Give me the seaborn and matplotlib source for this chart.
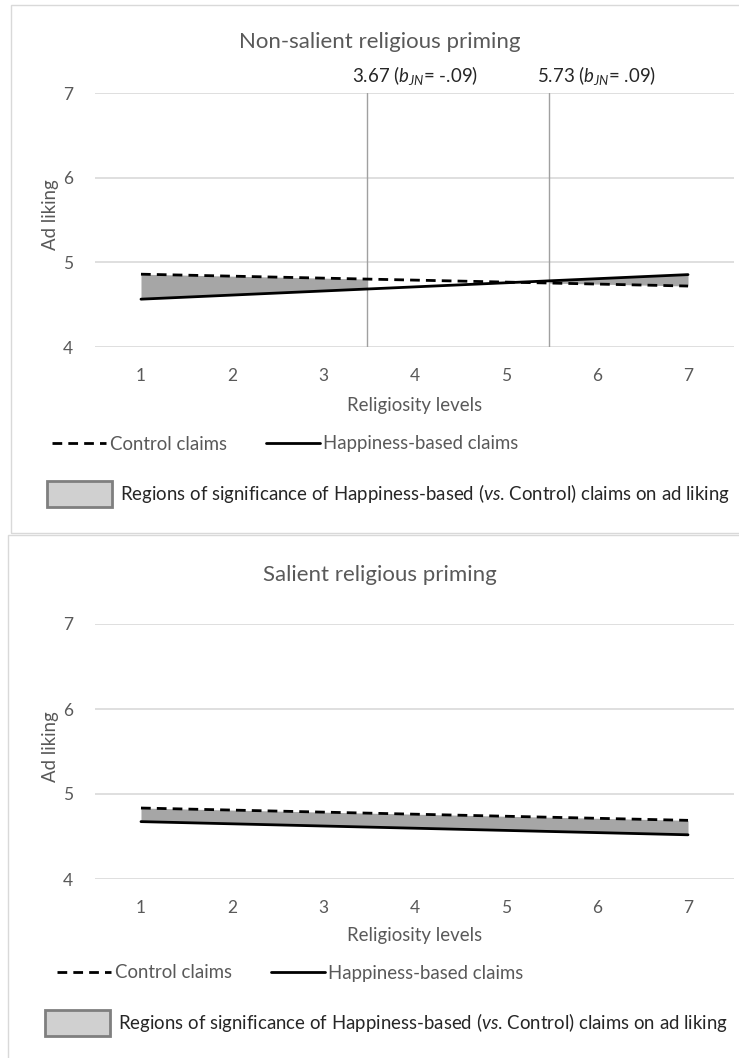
import numpy as np
import pandas as pd
import matplotlib
matplotlib.use("Agg")
import matplotlib.pyplot as plt
import seaborn as sns
from matplotlib.lines import Line2D
from matplotlib.patches import Patch, Rectangle

# data
religiosity = [1, 7]
claim_types = ["Control claims", "Happiness-based claims"]
nonsalient_control = [4.86, 4.72]
nonsalient_happy = [4.565, 4.855]
salient_control = [4.835, 4.69]
salient_happy = [4.675, 4.52]
jn_points = [3.48, 5.47]          # where the J-N lines are drawn
jn_values = ["3.67", "5.73"]
jn_slopes = ["-.09", ".09"]
x_ticks = [1, 2, 3, 4, 5, 6, 7]
y_ticks = [4, 5, 6, 7]

sns.set_theme(style="white")
plt.rcParams["font.family"] = ["Lato", "DejaVu Sans"]
plt.rcParams["mathtext.fontset"] = "custom"
plt.rcParams["mathtext.rm"] = "Lato"
plt.rcParams["mathtext.it"] = "Lato:italic"

GREY_TXT = "#595959"
DARK_TXT = "#262626"
GRID = "#d9d9d9"
FILL = "#a6a6a6"

W, H = 739, 1058
fig = plt.figure(figsize=(W / 100, H / 100), dpi=100)


def px_box(left, top, right, bottom):
    return [left / W, 1 - bottom / H, (right - left) / W, (bottom - top) / H]


def make_df(control, happy):
    rows = []
    for x, c, h in zip(religiosity, control, happy):
        rows.append({"Religiosity": x, "Ad liking": c, "Claims": claim_types[0]})
        rows.append({"Religiosity": x, "Ad liking": h, "Claims": claim_types[1]})
    return pd.DataFrame(rows)


def draw_panel(ax, control, happy, regions):
    df = make_df(control, happy)
    sns.lineplot(data=df, x="Religiosity", y="Ad liking", hue="Claims",
                 style="Claims", palette=["black", "black"],
                 dashes={claim_types[0]: (3.5, 2.2), claim_types[1]: ""},
                 linewidth=2, legend=False, ax=ax, zorder=3)
    for x0, x1 in regions:
        xs = [x0, x1]
        yc = np.interp(xs, religiosity, control)
        yh = np.interp(xs, religiosity, happy)
        ax.fill_between(xs, yc, yh, color=FILL, linewidth=0, zorder=2)

    ax.set_xlim(0.5, 7.5)
    ax.set_ylim(4, 7)
    ax.set_xticks(x_ticks)
    ax.set_yticks(y_ticks)
    ax.grid(axis="y", color=GRID, linewidth=1.2)
    ax.grid(axis="x", visible=False)
    for s in ax.spines.values():
        s.set_visible(False)
    ax.tick_params(axis="both", length=0, labelsize=12.5, labelcolor=GREY_TXT)
    ax.tick_params(axis="x", pad=15)
    ax.tick_params(axis="y", pad=16)
    ax.set_xlabel("Religiosity levels", fontsize=13.4, color=GREY_TXT)
    ax.set_ylabel("Ad liking", fontsize=13.4, color=GREY_TXT)


def add_legends(ax, y_row1, y_row2, shift1=0, shift2=0):
    line_handles = [
        Line2D([], [], color="black", lw=2, dashes=(3.5, 2.2)),
        Line2D([], [], color="black", lw=2),
    ]
    leg1 = ax.legend(line_handles, claim_types, ncol=2, frameon=False,
                     loc="center left",
                     bbox_to_anchor=((52 + shift1) / W, 1 - y_row1 / H),
                     bbox_transform=fig.transFigure, fontsize=13.4,
                     handlelength=2.9, handletextpad=0.2, columnspacing=2.1,
                     borderaxespad=0, borderpad=0, labelcolor=GREY_TXT)
    ax.add_artist(leg1)
    patch = Patch(facecolor="#d0d0d0", edgecolor="#7f7f7f", linewidth=2)
    ax.legend([patch],
              ["Regions of significance of Happiness-based ($\\mathit{vs}$. Control) claims on ad liking"],
              frameon=False, loc="center left",
              bbox_to_anchor=((47 + shift2) / W, 1 - y_row2 / H),
              bbox_transform=fig.transFigure, fontsize=13.4,
              handlelength=3.5, handleheight=1.7, handletextpad=0.4,
              borderaxespad=0, borderpad=0, labelcolor=DARK_TXT)


# panel borders
fig.patches.append(Rectangle((11 / W, 1 - 533 / H), 0.99, 528 / H, fill=False,
                             edgecolor=GRID, linewidth=1, transform=fig.transFigure))
fig.patches.append(Rectangle((8 / W, -0.01), 0.99, (H - 535) / H + 0.01, fill=False,
                             edgecolor=GRID, linewidth=1, transform=fig.transFigure))

# top panel
ax1 = fig.add_axes(px_box(95.4, 93, 733.6, 347))
draw_panel(ax1, nonsalient_control, nonsalient_happy,
           [(1, jn_points[0]), (jn_points[1], 7)])
ax1.yaxis.set_label_coords(-36 / 638.2, 0.52)
ax1.xaxis.set_label_coords(0.5, -50 / 254)
for xj, v, b in zip(jn_points, jn_values, jn_slopes):
    ax1.axvline(xj, color="#a0a0a0", linewidth=1, zorder=1)
    ax1.annotate(v + " ($\\mathit{b}_{\\mathit{JN}}$= " + b + ")", xy=(xj, 7),
                 xytext=(48, 18), textcoords="offset pixels", ha="center",
                 va="center", fontsize=13.4, color=DARK_TXT)
fig.text(380 / W, 1 - 42 / H, "Non-salient religious priming", ha="center",
         va="center", fontsize=16, color=GREY_TXT)
add_legends(ax1, 444, 494)

# bottom panel
ax2 = fig.add_axes(px_box(95.4, 624, 733.6, 879))
draw_panel(ax2, salient_control, salient_happy, [(1, 7)])
ax2.yaxis.set_label_coords(-36 / 638.2, 0.52)
ax2.xaxis.set_label_coords(0.5, -48 / 255)
fig.text(380 / W, 1 - 575 / H, "Salient religious priming", ha="center",
         va="center", fontsize=16, color=GREY_TXT)
add_legends(ax2, 973, 1023, shift1=5, shift2=-2)

fig.savefig("out.png", dpi=100, facecolor="white")
